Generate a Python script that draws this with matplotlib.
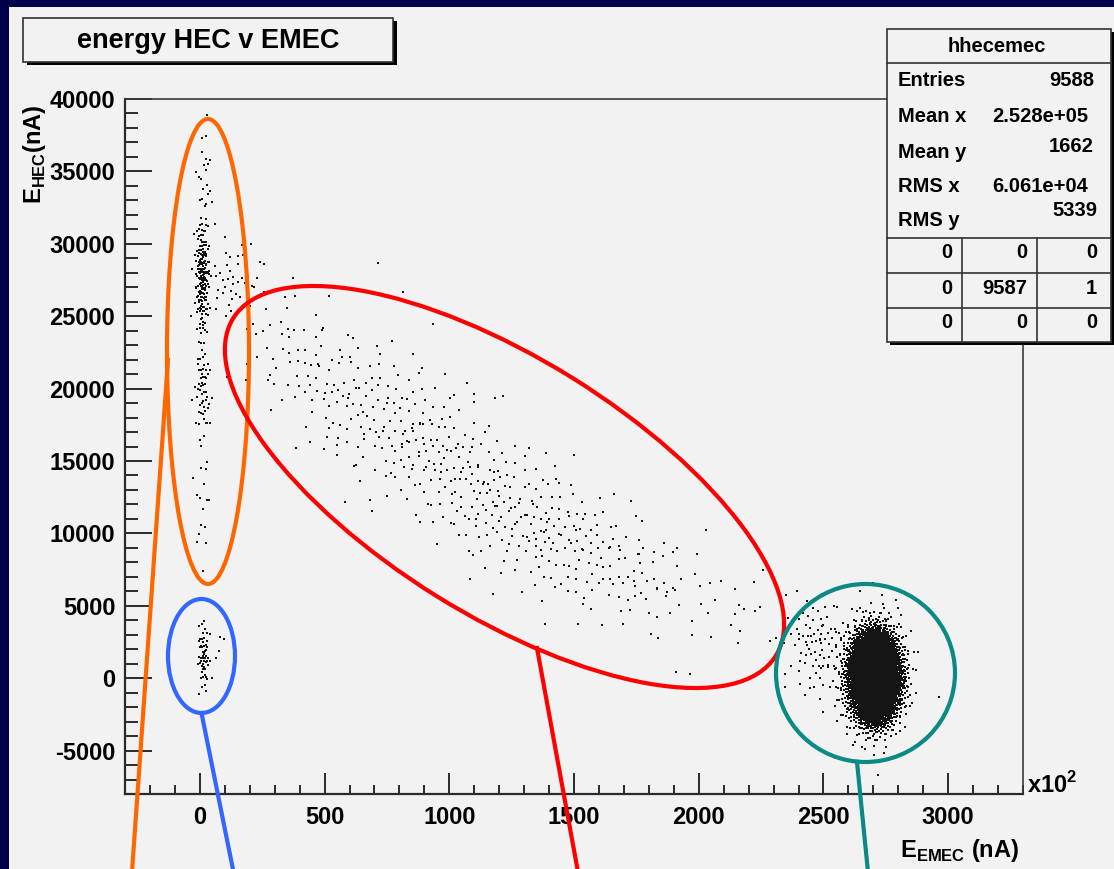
import numpy as np
import matplotlib
matplotlib.use('Agg')
import matplotlib.pyplot as plt
import matplotlib.ticker as mticker
from matplotlib.patches import Ellipse, Rectangle
from matplotlib import font_manager

W, H = 1114, 869
NAVY = '#00004a'
CANVAS = '#f2f2f2'
INK = '#141414'

_names = {f.name for f in font_manager.fontManager.ttflist}
NARROW = 'Liberation Sans Narrow' if 'Liberation Sans Narrow' in _names else 'Liberation Sans'
TICK_FS = 20 if NARROW == 'Liberation Sans Narrow' else 17

plt.rcParams['font.family'] = [NARROW, 'DejaVu Sans']
plt.rcParams['font.weight'] = 'bold'
plt.rcParams['mathtext.fontset'] = 'custom'
plt.rcParams['mathtext.rm'] = NARROW
plt.rcParams['mathtext.bf'] = NARROW + ':bold'

# point clouds (E_EMEC in x10^2 nA, E_HEC in nA)
clu_x  = [10, 20, 128, 12, 12,
          16, 76,
          300, 480, 650, 830, 1000, 1180, 1370, 1560, 1760, 1960, 2170, 2380,
          2705, 2690, 2467]
clu_y  = [27700, 34650, 27360, 20070, 11700,
          1530, 2150,
          23500, 20500, 18600, 17000, 14800, 12300, 10300, 8800, 7000, 5900, 4700, 3500,
          100, 300, 2360]
clu_sx = [14, 16, 56, 16, 16,
          12, 12,
          85, 85, 85, 85, 85, 85, 85, 85, 85, 85, 90, 90,
          44, 75, 60]
clu_sy = [1950, 2100, 1740, 1740, 2800,
          1180, 830,
          2300, 2600, 2700, 2800, 2800, 2700, 2500, 2300, 2100, 1900, 1800, 1700,
          1350, 2300, 1740]
clu_n  = [170, 22, 45, 55, 18,
          55, 4,
          35, 48, 58, 66, 75, 78, 70, 60, 42, 22, 12, 8,
          8050, 350, 70]

stat_labels = ['Entries', 'Mean x', 'Mean y', 'RMS x', 'RMS y']
stat_values = ['9588', '2.528e+05', '1662', '6.061e+04', '5339']
cell_counts = [[0, 0, 0], [0, 9587, 1], [0, 0, 0]]


def cloud(cx, cy, sx, sy, n, start):
    # quasi-uniform (R2) sequence pushed through Box-Muller
    k = np.arange(start, start + n) + 1
    u = (0.5 + k * 0.7548776662466927) % 1.0
    v = (0.5 + k * 0.5698402909980532) % 1.0
    r = np.sqrt(-2.0 * np.log(1.0 - u))
    return cx + sx * r * np.cos(2 * np.pi * v), cy + sy * r * np.sin(2 * np.pi * v)


def fx(px):
    return px / W


def fy(py):
    return 1 - py / H


fig = plt.figure(figsize=(W / 100, H / 100), dpi=100)
fig.patch.set_facecolor(NAVY)
fig.patches.append(Rectangle((fx(9), 0), 1 - fx(9), fy(7), transform=fig.transFigure,
                             facecolor=CANVAS, edgecolor='none', zorder=-10))

ax = fig.add_axes([fx(125), fy(794), fx(1023) - fx(125), fy(99) - fy(794)])
ax.set_facecolor(CANVAS)

xs, ys = [], []
start = 0
for cx, cy, sx, sy, n in zip(clu_x, clu_y, clu_sx, clu_sy, clu_n):
    px, py = cloud(cx, cy, sx, sy, n, start)
    xs.append(px)
    ys.append(py)
    start += n
ax.plot(np.concatenate(xs), np.concatenate(ys), 's', ms=1.6, mew=0, color=INK)

ax.set_xlim(-300, 3300)
ax.set_ylim(-8000, 40000)
ax.xaxis.set_major_locator(mticker.MultipleLocator(500))
ax.xaxis.set_minor_locator(mticker.MultipleLocator(100))
ax.yaxis.set_major_locator(mticker.MultipleLocator(5000))
ax.yaxis.set_minor_locator(mticker.MultipleLocator(1000))
fmt = mticker.FuncFormatter(lambda v, _: f"{int(round(v))}")
ax.xaxis.set_major_formatter(fmt)
ax.yaxis.set_major_formatter(fmt)
ax.tick_params(top=False, right=False, which='both', direction='in', color='#2a2a2a')
ax.tick_params(axis='y', which='major', length=19.4, width=1.4, pad=7, labelsize=TICK_FS)
ax.tick_params(axis='y', which='minor', length=9.4, width=1.4)
ax.tick_params(axis='x', which='major', length=15, width=1.4, pad=9, labelsize=TICK_FS)
ax.tick_params(axis='x', which='minor', length=6.5, width=1.4)
for side in ['left', 'bottom']:
    ax.spines[side].set_linewidth(1.6)
    ax.spines[side].set_color('#2a2a2a')
for side in ['top', 'right']:
    ax.spines[side].set_linewidth(1.2)
    ax.spines[side].set_color('#3a3a3a')

# overlay in pixel coordinates for boxes, labels and callouts
ov = fig.add_axes([0, 0, 1, 1])
ov.set_xlim(0, W)
ov.set_ylim(H, 0)
ov.axis('off')
ov.patch.set_alpha(0)

ov.text(34, 154, r'E$_{\mathbf{HEC}}$(nA)', rotation=90, ha='center', va='center', fontsize=TICK_FS)
ov.text(1019, 857, r'E$_{\mathbf{EMEC}}$ (nA)', ha='right', va='baseline', fontsize=TICK_FS)
ov.text(1027, 793, r'x10$^{2}$', ha='left', va='baseline', fontsize=17)

# title box
ov.add_patch(Rectangle((27, 21), 370, 44, facecolor='black', edgecolor='none'))
ov.add_patch(Rectangle((23, 18), 370, 44, facecolor=CANVAS, edgecolor='#333333', lw=1.2))
ov.text(208, 41, 'energy HEC v EMEC', ha='center', va='center', fontsize=19.5,
        family='Liberation Sans', weight='bold')

# stats box
ov.add_patch(Rectangle((890, 32), 224, 313, facecolor='black', edgecolor='none'))
ov.add_patch(Rectangle((887, 29), 224, 313, facecolor=CANVAS, edgecolor='#333333', lw=1.2))
ov.text(997, 46, 'hhecemec', ha='center', va='center', fontsize=14.5, family='Liberation Sans')
ov.plot([887, 1111], [63, 63], color='#333333', lw=1.2)
row_y = [80, 116, 152, 187, 220]
val_dy = [0, 0, -6, 0, -9]
val_x = [1094, 1088, 1094, 1088, 1097]
for lab, val, yy, dy, vx in zip(stat_labels, stat_values, row_y, val_dy, val_x):
    ov.text(898, yy, lab, ha='left', va='center', fontsize=14.5, family='Liberation Sans')
    ov.text(vx, yy + dy, val, ha='right', va='center', fontsize=14.5, family='Liberation Sans')
for yy in [238, 273, 308]:
    ov.plot([887, 1111], [yy, yy], color='#333333', lw=1.2)
for xx in [962, 1037]:
    ov.plot([xx, xx], [238, 342], color='#333333', lw=1.2)
cell_x = [952, 1027, 1097]
cell_y = [253, 289, 323]
for row, yy in zip(cell_counts, cell_y):
    for c, xx in zip(row, cell_x):
        ov.text(xx, yy, str(c), ha='right', va='center', fontsize=14.5, family='Liberation Sans')

# highlighted regions and callouts
ORANGE, RED, BLUE, TEAL = '#ff6600', '#ff0000', '#3366ff', '#0a8a85'
ov.add_patch(Ellipse((208, 351.5), 82, 465, facecolor='none', edgecolor=ORANGE, lw=3))
ov.plot([168, 132], [360, 872], color=ORANGE, lw=3)
ov.add_patch(Ellipse((201.5, 656), 67, 114, facecolor='none', edgecolor=BLUE, lw=3))
ov.plot([201.5, 233.5], [713, 872], color=BLUE, lw=3)
ov.add_patch(Ellipse((504.5, 487), 639, 257, angle=31.9, facecolor='none', edgecolor=RED, lw=3))
ov.plot([537, 578], [648, 872], color=RED, lw=3)
ov.add_patch(Ellipse((865.5, 673), 179, 178, facecolor='none', edgecolor=TEAL, lw=3))
ov.plot([857, 868], [762, 872], color=TEAL, lw=3)

fig.savefig('out.png', dpi=100, facecolor=fig.get_facecolor())
